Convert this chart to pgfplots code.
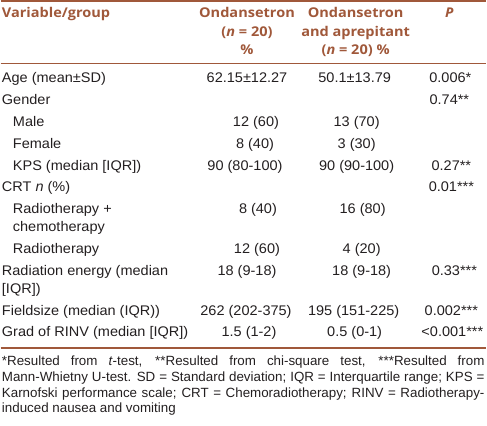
\documentclass[border=0pt]{standalone}
\usepackage{pgfplots}
\pgfplotsset{compat=1.18}
\usepackage{fontspec}
\setmainfont{Liberation Sans}[FakeStretch=1.04]
\newfontfamily\hfont{Open Sans}[FakeStretch=1.08]
\newfontfamily\ffont{Liberation Sans}
\definecolor{brn}{RGB}{160,88,58}
\definecolor{txt}{RGB}{35,31,32}
\begin{document}
\begin{tikzpicture}[
  hd/.style={anchor=base, inner sep=0pt, text=brn, font={\hfont\bfseries\fontsize{13.5}{16}\selectfont}},
  hdl/.style={hd, anchor=base west},
  bd/.style={anchor=base, inner sep=0pt, text=txt, font={\fontsize{14}{17}\selectfont}},
  lb/.style={bd, anchor=base west},
  ft/.style={anchor=base west, inner sep=0pt, text=txt, font={\ffont\fontsize{13.4}{16}\selectfont}}]
\begin{axis}[width=487pt, height=427pt, scale only axis,
  xmin=0, xmax=487, ymin=0, ymax=427, y dir=reverse,
  hide axis, clip=false]
\path (axis cs:0,0) rectangle (axis cs:487,427);
% rules
\addplot[brn, line width=1.5pt] coordinates {(0,1) (487,1)};
\addplot[brn, line width=1.5pt] coordinates {(0,63.5) (487,63.5)};
\addplot[brn, line width=1.5pt] coordinates {(0,349) (487,349)};
% header
\node[hdl] at (axis cs:1,18) {Variable/group};
\node[hd] at (axis cs:247,18) {Ondansetron};
\node[hd] at (axis cs:247,36.5) {(\textit{n} = 20)};
\node[hd] at (axis cs:247,55) {\%};
\node[hd] at (axis cs:356,18) {Ondansetron};
\node[hd] at (axis cs:356,36.5) {and aprepitant};
\node[hd] at (axis cs:356,55) {(\textit{n} = 20) \%};
\node[hd] at (axis cs:450,18) {\textit{P}};
% row labels
\node[lb] at (axis cs:1,83) {Age (mean±SD)};
\node[lb] at (axis cs:1,104.9) {Gender};
\node[lb] at (axis cs:12,126.8) {Male};
\node[lb] at (axis cs:12,148.7) {Female};
\node[lb] at (axis cs:12,170.6) {KPS (median [IQR])};
\node[lb] at (axis cs:1,192.5) {CRT \textit{n} (\%)};
\node[lb] at (axis cs:12,214.4) {Radiotherapy +};
\node[lb] at (axis cs:12,232.4) {chemotherapy};
\node[lb] at (axis cs:12,254.3) {Radiotherapy};
\node[lb] at (axis cs:1,276.2) {Radiation energy (median};
\node[lb] at (axis cs:1,294.2) {[IQR])};
\node[lb] at (axis cs:1,316.1) {Fieldsize (median (IQR))};
\node[lb] at (axis cs:1,338) {Grad of RINV (median [IQR])};
% column 1: Ondansetron
\node[bd] at (axis cs:247,83) {62.15±12.27};
\node[bd] at (axis cs:256,126.8) {12 (60)};
\node[bd] at (axis cs:255,148.7) {8 (40)};
\node[bd] at (axis cs:245,170.6) {90 (80-100)};
\node[bd] at (axis cs:258,214.4) {8 (40)};
\node[bd] at (axis cs:257,254.3) {12 (60)};
\node[bd] at (axis cs:247,276.2) {18 (9-18)};
\node[bd] at (axis cs:246,316.1) {262 (202-375)};
\node[bd] at (axis cs:249,338) {1.5 (1-2)};
% column 2: Ondansetron and aprepitant
\node[bd] at (axis cs:355,83) {50.1±13.79};
\node[bd] at (axis cs:357,126.8) {13 (70)};
\node[bd] at (axis cs:357,148.7) {3 (30)};
\node[bd] at (axis cs:357,170.6) {90 (90-100)};
\node[bd] at (axis cs:363,214.4) {16 (80)};
\node[bd] at (axis cs:362,254.3) {4 (20)};
\node[bd] at (axis cs:362,276.2) {18 (9-18)};
\node[bd] at (axis cs:354,316.1) {195 (151-225)};
\node[bd] at (axis cs:355,338) {0.5 (0-1)};
% P
\node[bd] at (axis cs:451,83) {0.006*};
\node[bd] at (axis cs:450,104.9) {0.74**};
\node[bd] at (axis cs:452,170.6) {0.27**};
\node[bd] at (axis cs:452,192.5) {0.01***};
\node[bd] at (axis cs:455,276.2) {0.33***};
\node[bd] at (axis cs:452,316.1) {0.002***};
\node[bd] at (axis cs:453,338) {<0.001***};
% footnote
\node[ft] at (axis cs:1,367) {\makebox[484pt][s]{*Resulted from \textit{t}-test, **Resulted from chi-square test, ***Resulted from}};
\node[ft] at (axis cs:1,382.7) {\makebox[484pt][s]{Mann-Whietny U-test. SD = Standard deviation; IQR = Interquartile range; KPS =}};
\node[ft] at (axis cs:1,398.4) {\makebox[484pt][s]{Karnofski performance scale; CRT = Chemoradiotherapy; RINV = Radiotherapy-}};
\node[ft] at (axis cs:1,414) {induced nausea and vomiting};
\end{axis}
\end{tikzpicture}
\end{document}
